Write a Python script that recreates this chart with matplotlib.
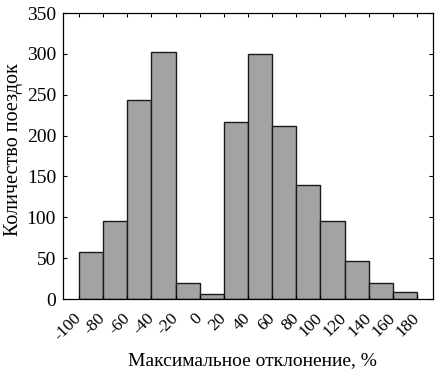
import matplotlib
matplotlib.use("Agg")
import matplotlib.pyplot as plt
import numpy as np

plt.rcParams['font.family'] = ['Liberation Serif', 'DejaVu Serif']

bin_edges = [-100, -80, -60, -40, -20, 0, 20, 40, 60, 80, 100, 120, 140, 160, 180]
counts = [58, 96, 244, 302, 20, 6, 217, 300, 212, 139, 96, 47, 20, 8]
tick_labels = ['-100', '-80', '-60', '-40', '-20', '0', '20', '40', '60', '80',
               '100', '120', '140', '160', '180']
yticks = [0, 50, 100, 150, 200, 250, 300, 350]

W, H = 448, 371
fig = plt.figure(figsize=(W / 100, H / 100), dpi=100)
ax = fig.add_axes([63 / W, 1 - 299 / H, (433 - 63) / W, (299 - 13) / H])

lefts = np.array(bin_edges[:-1])
widths = np.diff(bin_edges)
ax.bar(lefts, counts, width=widths, align='edge', color='#a3a3a3',
       edgecolor='#1a1a1a', linewidth=1.0)

ax.set_xlim(-113.3, 193.3)
ax.set_ylim(0, 350)
ax.set_xticks(bin_edges)
ax.set_xticklabels(tick_labels, rotation=45, ha='right', va='center',
                   rotation_mode='anchor', fontsize=12.5)
ax.set_yticks(yticks)
ax.set_yticklabels([str(v) for v in yticks], fontsize=14)
ax.tick_params(direction='in', top=True, right=True, length=3, width=0.8)
ax.tick_params(axis='x', pad=12)
ax.tick_params(axis='y', pad=5)
for s in ax.spines.values():
    s.set_linewidth(0.9)

fig.text(252.5 / W, 6 / H, 'Максимальное отклонение, %', fontsize=14,
         ha='center', va='baseline')
fig.text(14 / W, 1 - 150 / H, 'Количество поездок', fontsize=14.5,
         ha='center', va='center', rotation=90)

fig.savefig('out.png', dpi=100)
